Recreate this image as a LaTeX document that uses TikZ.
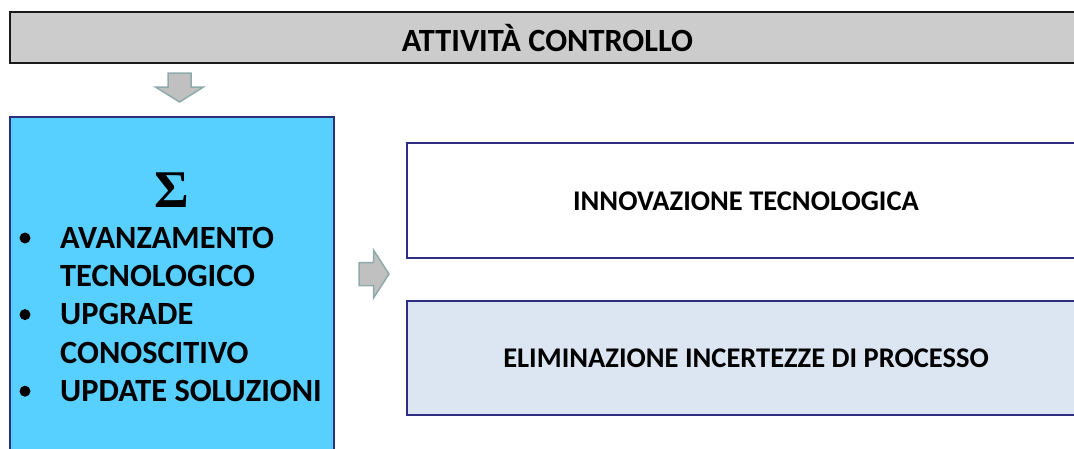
\documentclass[tikz,border=0pt]{standalone}
\usepackage{fontspec}
\setmainfont{Carlito}
\newfontfamily\sigmafont{Liberation Serif}
\definecolor{barfill}{HTML}{CCCCCC}
\definecolor{barline}{HTML}{1A1A1A}
\definecolor{navy}{HTML}{2E2E80}
\definecolor{cyanfill}{HTML}{58D0FF}
\definecolor{palefill}{HTML}{DCE6F2}
\definecolor{arrfill}{HTML}{C0C0C0}
\definecolor{arrline}{HTML}{8FAAAA}
\tikzset{
  bar/.style={draw=barline, line width=2pt, fill=barfill},
  panel/.style={draw=navy, line width=2pt},
  blockarrow/.style={draw=arrline, line width=1.5pt, fill=arrfill, line join=miter},
  bigtxt/.style={font=\fontsize{32.4}{32.4}\selectfont\bfseries, inner sep=0pt},
  boxtxt/.style={font=\fontsize{28.5}{28.5}\selectfont\bfseries, inner sep=0pt},
  bulletdot/.style={fill=black, circle, inner sep=0pt, minimum size=11pt},
}
\begin{document}
\begin{tikzpicture}[x=1pt,y=-1pt]
\useasboundingbox (0,0) rectangle (1074,448);
% top bar
\path[bar] (10,12) rectangle (1085,62.5);
\node[bigtxt] (title) at (547.5,38) {ATTIVITÀ CONTROLLO};
% down arrow
\draw[blockarrow] (168,73) -- (191,73) -- (191,87) -- (203.5,87) -- (179.5,102) -- (155.5,87) -- (168,87) -- cycle;
% left panel
\path[panel, fill=cyanfill] (10,117) rectangle (334,470);
\node[font=\sigmafont\fontsize{53}{53}\selectfont\bfseries, inner sep=0pt] (sigma) at (171.5,190) {Σ};
\foreach \t/\yy [count=\i] in {AVANZAMENTO/248.3, TECNOLOGICO/286.6, UPGRADE/324.9, CONOSCITIVO/363.2, UPDATE SOLUZIONI/401.5}{
  \node[bigtxt, anchor=base west] (item\i) at (60,\yy) {\t};
}
\node[bulletdot] (b1) at (25,238) {};
\node[bulletdot] (b2) at (25,314.6) {};
\node[bulletdot] (b3) at (25,391.2) {};
% right arrow
\draw[blockarrow] (359,262.5) -- (373.5,262.5) -- (373.5,250) -- (389,274) -- (373.5,298) -- (373.5,285.5) -- (359,285.5) -- cycle;
% right boxes
\path[panel, fill=white] (407,143) rectangle (1085,257.5);
\node[boxtxt] (innov) at (746,201.5) {INNOVAZIONE TECNOLOGICA};
\path[panel, fill=palefill] (407,300.5) rectangle (1085,414.5);
\node[boxtxt] (elim) at (746,358.5) {ELIMINAZIONE INCERTEZZE DI PROCESSO};
\end{tikzpicture}
\end{document}
